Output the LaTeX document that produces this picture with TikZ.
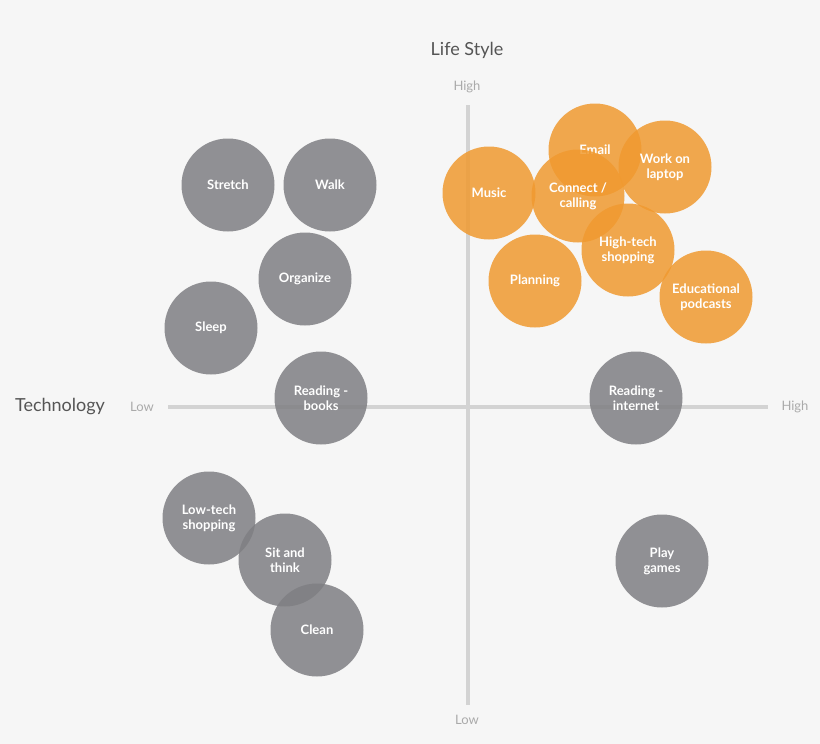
\documentclass[tikz,border=0pt]{standalone}
\usepackage{fontspec}
\setmainfont{Lato}
\definecolor{bg}{HTML}{F6F6F6}
\definecolor{axis}{HTML}{D3D3D3}
\definecolor{gc}{HTML}{7F7F83}
\definecolor{oc}{HTML}{F09A30}
\definecolor{lbl}{HTML}{555555}
\definecolor{tick}{HTML}{AAAAAA}
\begin{document}
\begin{tikzpicture}[x=1pt,y=-1pt,
  bub/.style={circle,minimum size=93pt,inner sep=0pt,text=white,font=\fontsize{13}{15}\selectfont\bfseries,align=center,fill opacity=0.85,text opacity=1},
  gb/.style={bub,fill=gc},
  ob/.style={bub,fill=oc},
  tk/.style={text=tick,font=\fontsize{13}{15}\selectfont}]
\fill[bg] (0,0) rectangle (820,744);
\useasboundingbox (0,0) rectangle (820,744);
\coordinate (xl) at (168,407); \coordinate (xr) at (768,407);
\coordinate (yt) at (468,105); \coordinate (yb) at (468,705);
\draw[axis,line width=4pt] (xl) -- (xr);
\draw[axis,line width=4pt] (yt) -- (yb);
\node[text=lbl,font=\fontsize{18}{20}\selectfont] (ls) at (467,50) {Life Style};
\node[text=lbl,font=\fontsize{18}{20}\selectfont] (tech) at (60,407) {Technology};
\node[tk] (lo1) at (142,407) {Low};
\node[tk] (hi1) at (795,407) {High};
\node[tk] (hi2) at (467,87) {High};
\node[tk] (lo2) at (467,720) {Low};
\node[gb] (stretch) at (228,185) {Stretch};
\node[gb] (walk) at (330,185) {Walk};
\node[gb] (org) at (305,279) {Organize};
\node[gb] (sleep) at (211,328) {Sleep};
\node[gb] (rb) at (321,398) {Reading -\\books};
\node[gb] (lts) at (209,518) {Low-tech\\shopping};
\node[gb] (sit) at (285,560) {Sit and\\think};
\node[gb] (clean) at (317,630) {Clean};
\node[gb] (ri) at (636,398) {Reading -\\internet};
\node[gb] (play) at (662,561) {Play\\games};
\node[ob] (music) at (489,193) {Music};
\node[ob] (email) at (595,150) {Email};
\node[ob] (work) at (665,167) {Work on\\laptop};
\node[ob] (conn) at (578,196) {Connect /\\calling};
\node[ob] (hts) at (628,250) {High-tech\\shopping};
\node[ob] (plan) at (535,281) {Planning};
\node[ob] (edu) at (706,297) {Educational\\podcasts};
\end{tikzpicture}
\end{document}
